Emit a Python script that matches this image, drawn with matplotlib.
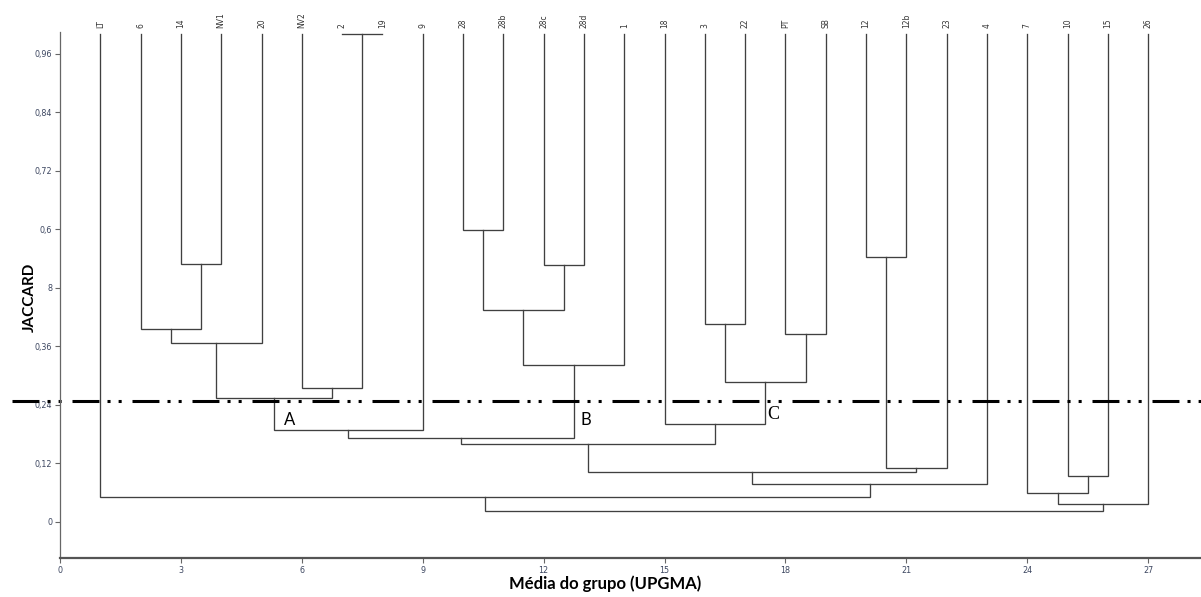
import matplotlib
matplotlib.use("Agg")
import matplotlib.pyplot as plt

# leaf order along the x axis (positions 1..27)
leaves = ['LT', '6', '14', 'NV1', '20', 'NV2', '2', '19', '9', '28', '28b', '28c',
          '28d', '1', '18', '3', '22', 'PT', 'SB', '12', '12b', '23', '4', '7',
          '10', '15', '26']

# UPGMA merges: children are leaf names or indices of earlier merges
merge_left = ['2', '14', '6', 2, 'NV2', 3, 5, '28', '28c', 7, 9, 6, '3',
              'PT', 12, '18', 11, '12', 17, 16, 19, 'LT', '10', '7', 23, 21]
merge_right = ['19', 'NV1', 1, '20', 0, 4, '9', '28b', '28d', 8, '1', 10, '22',
               'SB', 13, 14, 15, '12b', '23', 18, '4', 20, '15', 22, '26', 24]
merge_height = [1.0, 0.529, 0.396, 0.367, 0.275, 0.254, 0.189, 0.599, 0.527, 0.435,
                0.322, 0.172, 0.406, 0.386, 0.287, 0.201, 0.160, 0.543, 0.111,
                0.102, 0.078, 0.052, 0.095, 0.059, 0.037, 0.023]

leaf_top = 1.0
cut_level = 0.248
group_labels = ['A', 'B', 'C']
group_x = [5.7, 13.05, 17.7]
group_y = [0.21, 0.21, 0.22]

yticks = [0, 0.12, 0.24, 0.36, 0.48, 0.6, 0.72, 0.84, 0.96]
yticklabels = ['0', '0,12', '0,24', '0,36', '8', '0,6', '0,72', '0,84', '0,96']
xticks = [0, 3, 6, 9, 12, 15, 18, 21, 24, 27]

plt.rcParams['lines.scale_dashes'] = False

fig = plt.figure(figsize=(12.01, 5.97), dpi=100)
ax = fig.add_axes([60 / 1201, 1 - 558 / 597, 1 - 60 / 1201, (558 - 32) / 597])
ax.set_xlim(0, 28.31)
ax.set_ylim(-0.074, 1.005)

pos = {name: i + 1 for i, name in enumerate(leaves)}
node_x = []
node_h = []


def get(c):
    if isinstance(c, str):
        return pos[c], leaf_top
    return node_x[c], node_h[c]


line_col = '#404040'
for l, r, h in zip(merge_left, merge_right, merge_height):
    xl, hl = get(l)
    xr, hr = get(r)
    ax.plot([xl, xl, xr, xr], [hl, h, h, hr], color=line_col, lw=0.95,
            solid_joinstyle='miter')
    node_x.append((xl + xr) / 2)
    node_h.append(h)

for name, x in pos.items():
    ax.text(x, 1.013, name, rotation=90, ha='center', va='bottom', fontsize=5.5,
            color='#333333', clip_on=False)

ax.plot([-1.19, 28.31], [cut_level, cut_level], color='black', lw=2.2,
        dashes=(19.4, 5.8, 2.2, 5.8, 2.2, 7.8), clip_on=False)

for lab, x, y in zip(group_labels, group_x, group_y):
    if lab == 'C':
        ax.text(x, y, lab, fontsize=13, family='Liberation Serif', ha='center', va='center')
    else:
        ax.text(x, y, lab, fontsize=12, family='Lato', ha='center', va='center')

for s in ['top', 'right']:
    ax.spines[s].set_visible(False)
ax.spines['left'].set_color('#666666')
ax.spines['left'].set_linewidth(0.9)
ax.spines['bottom'].set_color('#555555')
ax.spines['bottom'].set_linewidth(1.6)

ax.set_yticks(yticks)
ax.set_yticklabels(yticklabels)
ax.set_xticks(xticks)
ax.tick_params(axis='both', labelsize=5.8, colors='#666666', labelcolor='#3c4660',
               length=3.5, width=0.8, pad=2)

fig.text(30 / 1201, 1 - 297 / 597, 'JACCARD', rotation=90, ha='center', va='center',
         family='Lato', fontweight='bold', fontsize=11)
fig.text(605 / 1201, 1 - 584 / 597, 'Média do grupo (UPGMA)', ha='center', va='center',
         family='Lato', fontweight='bold', fontsize=12)

fig.savefig('out.png', dpi=100)
